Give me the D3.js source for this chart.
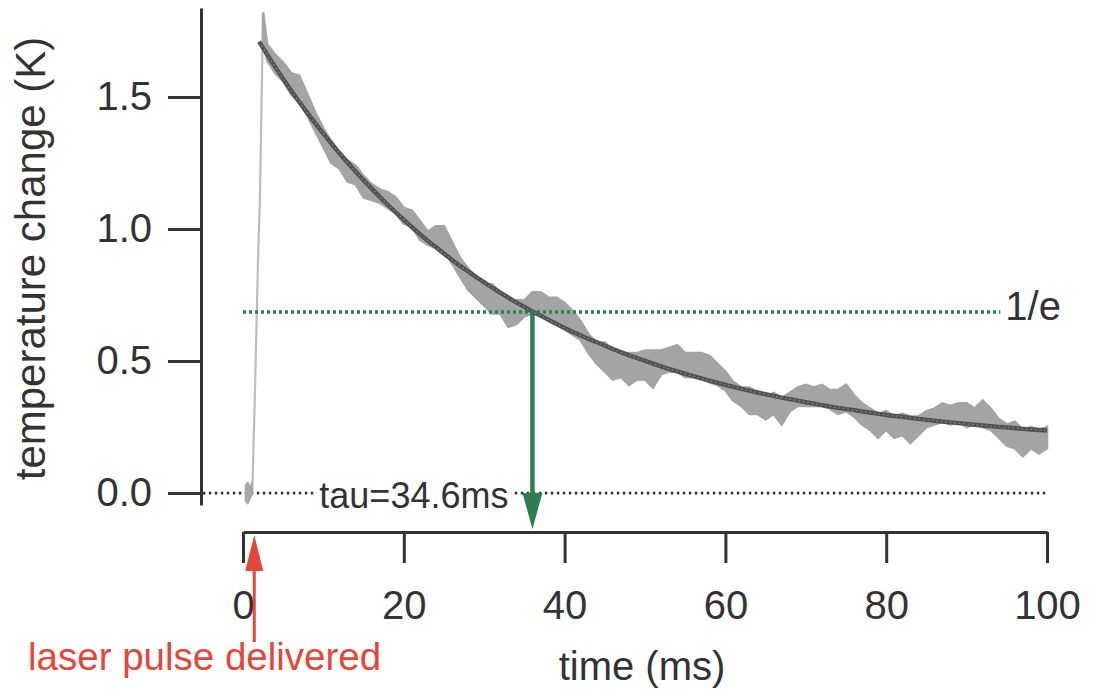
<!DOCTYPE html>
<html>
<head>
<meta charset="utf-8">
<script src="https://cdn.jsdelivr.net/npm/d3@7"></script>
<style>
  html, body { margin: 0; padding: 0; background: #fff; }
  svg { display: block; font-family: "Liberation Sans", Arial, Helvetica, sans-serif; }
</style>
</head>
<body>
<svg id="chart" width="1095" height="696"></svg>
<script>
// ---- data -------------------------------------------------------------
// Pre-pulse baseline (ms, K)
const baseTime  = [0.3, 0.6, 0.9, 1.2];
const baseUpper = [0.03, 0.04, 0.02, 0.05];
const baseLower = [-0.03, -0.04, -0.02, 0.00];

// Heating edge right after the laser pulse
const riseTime  = [1.2, 1.5, 1.9, 2.1, 2.5];
const riseValue = [0.05, 0.40, 0.92, 1.11, 1.82];

// Recorded cooling trace, drawn as its noise envelope (ms, K)
const bandTime = [2.5].concat(d3.range(3, 101));
const bandUpper = [1.82,
  1.70, 1.66, 1.63, 1.59, 1.58, 1.51, 1.44, 1.38, 1.33, 1.29,
  1.26, 1.24, 1.20, 1.17, 1.15, 1.14, 1.12, 1.08, 1.07, 1.03,
  0.99, 1.01, 1.01, 0.95, 0.89, 0.85, 0.82, 0.79, 0.79, 0.76,
  0.73, 0.73, 0.73, 0.76, 0.76, 0.74, 0.74, 0.72, 0.69, 0.65,
  0.60, 0.57, 0.57, 0.54, 0.53, 0.53, 0.53, 0.54, 0.54, 0.54,
  0.55, 0.56, 0.53, 0.53, 0.53, 0.52, 0.49, 0.46, 0.42, 0.40,
  0.40, 0.38, 0.36, 0.38, 0.36, 0.38, 0.40, 0.41, 0.40, 0.41,
  0.39, 0.39, 0.41, 0.37, 0.34, 0.32, 0.30, 0.31, 0.29, 0.30,
  0.29, 0.29, 0.31, 0.32, 0.34, 0.33, 0.34, 0.34, 0.32, 0.35,
  0.32, 0.28, 0.26, 0.27, 0.24, 0.25, 0.24, 0.25];
const bandLower = [1.70,
  1.64, 1.59, 1.56, 1.51, 1.48, 1.43, 1.37, 1.31, 1.25, 1.23,
  1.18, 1.17, 1.12, 1.11, 1.10, 1.08, 1.06, 1.02, 1.01, 0.96,
  0.94, 0.93, 0.92, 0.87, 0.82, 0.77, 0.74, 0.71, 0.68, 0.68,
  0.63, 0.64, 0.67, 0.68, 0.67, 0.66, 0.64, 0.62, 0.60, 0.58,
  0.53, 0.49, 0.46, 0.43, 0.44, 0.41, 0.43, 0.43, 0.40, 0.45,
  0.46, 0.46, 0.44, 0.44, 0.44, 0.42, 0.41, 0.39, 0.35, 0.33,
  0.30, 0.30, 0.28, 0.30, 0.26, 0.31, 0.33, 0.33, 0.33, 0.33,
  0.32, 0.30, 0.31, 0.29, 0.26, 0.24, 0.21, 0.24, 0.21, 0.22,
  0.19, 0.22, 0.25, 0.26, 0.27, 0.26, 0.27, 0.25, 0.26, 0.25,
  0.24, 0.21, 0.18, 0.17, 0.14, 0.17, 0.15, 0.17];

// Exponential fit to the cooling trace
const fitTime  = [2, 4, 6, 8, 10, 12, 14, 16, 18, 20, 22, 24, 26, 28, 30, 32, 34, 36, 38, 40,
                  42, 44, 46, 48, 50, 52, 54, 56, 58, 60, 62, 64, 66, 68, 70, 72, 74, 76, 78, 80,
                  82, 84, 86, 88, 90, 92, 94, 96, 98, 100];
const fitValue = [1.710, 1.614, 1.524, 1.440, 1.361, 1.287, 1.218, 1.153, 1.092, 1.035,
                  0.981, 0.931, 0.883, 0.839, 0.798, 0.759, 0.722, 0.688, 0.656, 0.625,
                  0.597, 0.571, 0.546, 0.522, 0.501, 0.480, 0.461, 0.443, 0.426, 0.410,
                  0.395, 0.381, 0.368, 0.356, 0.344, 0.333, 0.323, 0.314, 0.305, 0.296,
                  0.289, 0.281, 0.274, 0.268, 0.262, 0.256, 0.251, 0.246, 0.241, 0.237];

const pulseTime = 1.4;           // ms, laser pulse
const tau = 34.6;                // ms, fitted time constant
const peakValue = 1.865;         // K, amplitude of the decay
const levelValue = peakValue / Math.E;
const levelLineEnd = 94.2;       // ms

const xTicks = [0, 20, 40, 60, 80, 100];
const yTicks = [0, 0.5, 1.0, 1.5];

// ---- layout -----------------------------------------------------------
const svg = d3.select("#chart");
const x = d3.scaleLinear().domain([0, 100]).range([243, 1047]);
const y = d3.scaleLinear().domain([-0.045, 1.837]).range([505, 8]);
const yAxisX = 201;
const xAxisY = 532;
const ink = "#333";
const green = "#2d7f50";
const red = "#e2473a";

svg.append("rect").attr("width", 1095).attr("height", 696).attr("fill", "#fff");

// zero line
svg.append("line")
  .attr("x1", x(-5)).attr("x2", x(100))
  .attr("y1", y(0)).attr("y2", y(0))
  .attr("stroke", ink).attr("stroke-width", 2.8)
  .attr("stroke-dasharray", "2.5,3.5");

// trace: baseline, heating edge, cooling band
const area = (t, lo, hi) => d3.area()
  .x((d, i) => x(t[i])).y0((d, i) => y(lo[i])).y1((d, i) => y(hi[i]))(t);

svg.append("path").attr("d", area(baseTime, baseLower, baseUpper))
  .attr("fill", "#a8a8a8").attr("stroke", "#a8a8a8").attr("stroke-width", 1.5);

svg.append("path")
  .attr("d", d3.line().x((d, i) => x(riseTime[i])).y((d, i) => y(riseValue[i]))(riseTime))
  .attr("fill", "none").attr("stroke", "#bdbdbd").attr("stroke-width", 2.2);

svg.append("path").attr("d", area(bandTime, bandLower, bandUpper))
  .attr("fill", "#a4a4a4").attr("stroke", "#a4a4a4").attr("stroke-width", 2.6)
  .attr("stroke-linejoin", "miter").attr("stroke-miterlimit", 3);

// fit
const fitPath = d3.line().curve(d3.curveMonotoneX)
  .x((d, i) => x(fitTime[i])).y((d, i) => y(fitValue[i]))(fitTime);
svg.append("path").attr("d", fitPath)
  .attr("fill", "none").attr("stroke", "#525252").attr("stroke-width", 4.4);
svg.append("path").attr("d", fitPath)
  .attr("fill", "none").attr("stroke", "#8a8a8a").attr("stroke-width", 1.2)
  .attr("stroke-dasharray", "1.5,3");

// 1/e level
svg.append("line")
  .attr("x1", x(0)).attr("x2", x(levelLineEnd))
  .attr("y1", y(levelValue)).attr("y2", y(levelValue))
  .attr("stroke", green).attr("stroke-width", 3.4)
  .attr("stroke-dasharray", "3,3");
svg.append("text")
  .attr("x", x(levelLineEnd) + 5).attr("y", y(levelValue) + 8)
  .attr("font-size", 40).attr("fill", ink).text("1/e");

// tau arrow
const tx = x(pulseTime + tau);
const tipY = xAxisY - 3;
svg.append("line")
  .attr("x1", tx).attr("x2", tx)
  .attr("y1", y(levelValue)).attr("y2", tipY - 30)
  .attr("stroke", green).attr("stroke-width", 4.5);
svg.append("path")
  .attr("d", `M${tx},${tipY} L${tx - 10},${tipY - 36} L${tx + 10},${tipY - 36} Z`)
  .attr("fill", green);

// tau label with a white backing over the zero line
const tauLabel = svg.append("text")
  .attr("x", tx - 24).attr("y", y(0) + 15)
  .attr("text-anchor", "end")
  .attr("font-size", 36).attr("fill", ink)
  .text("tau=" + tau + "ms");
const bb = tauLabel.node().getBBox();
svg.insert("rect", () => tauLabel.node())
  .attr("x", bb.x - 3).attr("y", y(0) - 3).attr("width", bb.width + 6).attr("height", 6)
  .attr("fill", "#fff");

// ---- axes -------------------------------------------------------------
const yAxis = svg.append("g")
  .attr("transform", `translate(${yAxisX},0)`)
  .call(d3.axisLeft(y).tickValues(yTicks).tickFormat(d3.format(".1f"))
    .tickSize(33).tickSizeOuter(0).tickPadding(16));
const xAxis = svg.append("g")
  .attr("transform", `translate(0,${xAxisY})`)
  .call(d3.axisBottom(x).tickValues(xTicks).tickFormat(d3.format("d"))
    .tickSize(31).tickSizeOuter(0).tickPadding(28));

[yAxis, xAxis].forEach(g => {
  g.select(".domain").attr("stroke", ink).attr("stroke-width", 3);
  g.selectAll(".tick line").attr("stroke", ink).attr("stroke-width", 3);
  g.selectAll(".tick text")
    .attr("font-family", "'Liberation Sans', Arial, Helvetica, sans-serif")
    .attr("font-size", 40).attr("fill", ink);
});

// axis titles
svg.append("text")
  .attr("transform", `translate(45,${(y(-0.045) + y(1.837)) / 2 + 2}) rotate(-90)`)
  .attr("text-anchor", "middle").attr("font-size", 42).attr("fill", ink)
  .text("temperature change (K)");
svg.append("text")
  .attr("x", 642).attr("y", 680)
  .attr("text-anchor", "middle").attr("font-size", 40).attr("fill", ink)
  .text("time (ms)");

// laser pulse marker
const px = x(pulseTime);
svg.append("line")
  .attr("x1", px).attr("x2", px).attr("y1", 642).attr("y2", 566)
  .attr("stroke", red).attr("stroke-width", 3);
svg.append("path")
  .attr("d", `M${px},535 L${px - 9},571 L${px + 9},571 Z`)
  .attr("fill", red);
svg.append("text")
  .attr("x", 28).attr("y", 670)
  .attr("font-size", 38.5).attr("fill", red)
  .text("laser pulse delivered");
</script>
</body>
</html>
